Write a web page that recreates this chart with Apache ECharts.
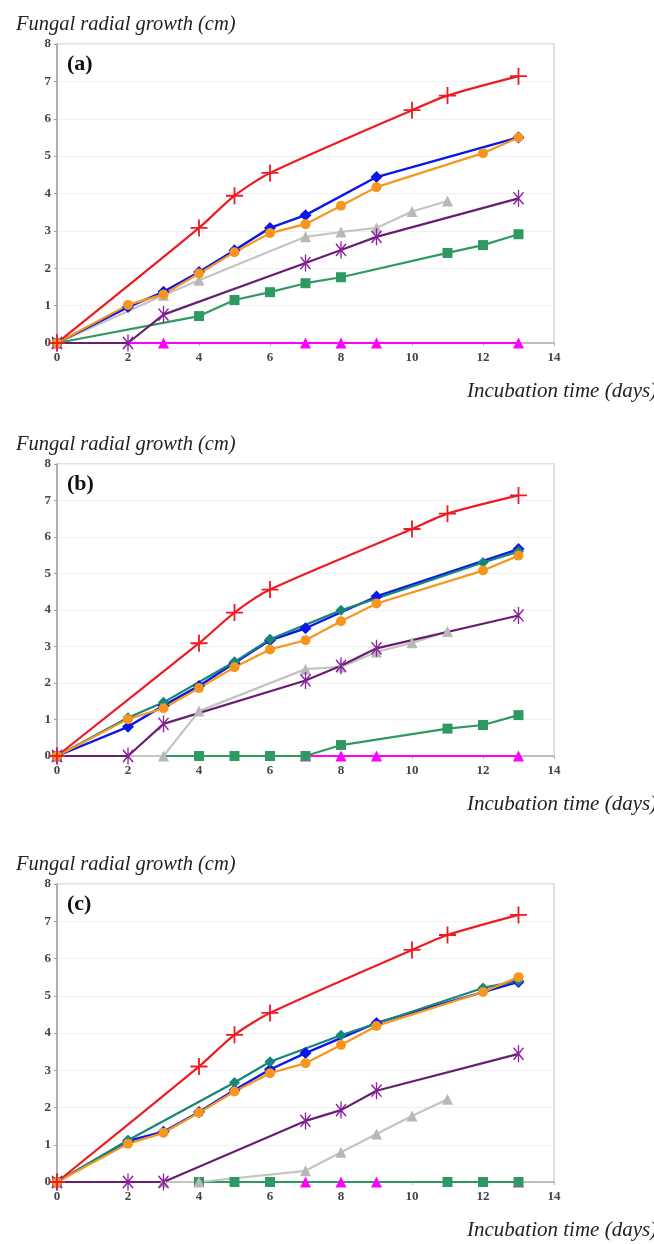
<!DOCTYPE html>
<html>
<head>
<meta charset="utf-8">
<script src="https://cdn.jsdelivr.net/npm/echarts@6/dist/echarts.min.js"></script>
<style>html,body{margin:0;padding:0;background:#fff;}#chart{width:654px;height:1244px;}</style>
</head>
<body>
<div id="chart"></div>
<script>
// ---- Data: [day, radial growth (cm)] ----
const panelLabels = ['(a)', '(b)', '(c)'];
const yTitle = 'Fungal radial growth (cm)';
const xTitle = 'Incubation time (days)';
const xTicks = [0, 2, 4, 6, 8, 10, 12, 14];
const yTicks = [0, 1, 2, 3, 4, 5, 6, 7, 8];

// Panel (a)
const redA     = [[0,0],[4,3.08],[5,3.94],[6,4.55],[10,6.23],[11,6.62],[13,7.14]];
const blueA    = [[0,0],[2,0.96],[3,1.37],[4,1.9],[5,2.48],[6,3.08],[7,3.42],[9,4.44],[13,5.5]];
const orangeA  = [[0,0],[2,1.02],[3,1.3],[4,1.86],[5,2.43],[6,2.94],[7,3.18],[8,3.67],[9,4.17],[12,5.08],[13,5.5]];
const grayA    = [[0,0],[3,1.28],[4,1.68],[7,2.84],[8,2.97],[9,3.08],[10,3.52],[11,3.8]];
const purpleA  = [[0,0],[2,0],[3,0.76],[7,2.14],[8,2.49],[9,2.84],[13,3.87]];
const greenA   = [[0,0],[4,0.72],[5,1.15],[6,1.36],[7,1.6],[8,1.76],[11,2.41],[12,2.62],[13,2.91]];
const magentaA = [[0,0],[3,0],[7,0],[8,0],[9,0],[13,0]];
const tealA    = [];

// Panel (b)
const redB     = [[0,0],[4,3.09],[5,3.93],[6,4.56],[10,6.22],[11,6.64],[13,7.14]];
const blueB    = [[0,0],[2,0.8],[3,1.38],[4,1.92],[5,2.55],[6,3.17],[7,3.5],[9,4.37],[13,5.67]];
const orangeB  = [[0,0],[2,1.01],[3,1.31],[4,1.86],[5,2.43],[6,2.92],[7,3.17],[8,3.69],[9,4.18],[12,5.08],[13,5.49]];
const grayB    = [[0,0],[3,0],[4,1.23],[7,2.38],[8,2.44],[9,2.85],[10,3.1],[11,3.41]];
const purpleB  = [[0,0],[2,0],[3,0.88],[7,2.07],[8,2.47],[9,2.95],[13,3.85]];
const greenB   = [[0,0],[4,0],[5,0],[6,0],[7,0],[8,0.3],[11,0.75],[12,0.85],[13,1.12]];
const magentaB = [[0,0],[7,0],[8,0],[9,0],[13,0]];
const tealB    = [[0,0],[2,1.05],[3,1.47],[5,2.58],[6,3.2],[8,3.99],[12,5.3],[13,5.6]];

// Panel (c)
const redC     = [[0,0],[4,3.1],[5,3.95],[6,4.54],[10,6.23],[11,6.63],[13,7.17]];
const blueC    = [[0,0],[2,1.1],[3,1.35],[4,1.88],[5,2.47],[6,3.02],[7,3.46],[9,4.27],[13,5.37]];
const orangeC  = [[0,0],[2,1.03],[3,1.32],[4,1.86],[5,2.43],[6,2.92],[7,3.19],[8,3.68],[9,4.19],[12,5.1],[13,5.5]];
const grayC    = [[0,0],[3,0],[4,0],[7,0.3],[8,0.8],[9,1.29],[10,1.77],[11,2.22]];
const purpleC  = [[0,0],[2,0],[3,0],[7,1.64],[8,1.93],[9,2.45],[13,3.44]];
const greenC   = [[0,0],[4,0],[5,0],[6,0],[11,0],[12,0],[13,0]];
const magentaC = [[0,0],[7,0],[8,0],[9,0],[13,0]];
const tealC    = [[0,0],[2,1.12],[5,2.67],[6,3.23],[8,3.94],[12,5.21],[13,5.4]];

const panels = [
  {red: redA, blue: blueA, orange: orangeA, gray: grayA, purple: purpleA, green: greenA, magenta: magentaA, teal: tealA},
  {red: redB, blue: blueB, orange: orangeB, gray: grayB, purple: purpleB, green: greenB, magenta: magentaB, teal: tealB},
  {red: redC, blue: blueC, orange: orangeC, gray: grayC, purple: purpleC, green: greenC, magenta: magentaC, teal: tealC}
];

// ---- Styles ----
const plusPath = 'path://M-0.75,-7 L0.75,-7 L0.75,-0.75 L7,-0.75 L7,0.75 L0.75,0.75 L0.75,7 L-0.75,7 L-0.75,0.75 L-7,0.75 L-7,-0.75 L-0.75,-0.75 Z';
const starPath = 'path://M-0.65,-7 L0.65,-7 L0.65,7 L-0.65,7 Z M-4.54,-5.46 L5.46,4.54 L4.54,5.46 L-5.46,-4.54 Z M-5.46,4.54 L4.54,-5.46 L5.46,-4.54 L-4.54,5.46 Z';
const styles = {
  magenta: {color: '#ff00ff', line: '#ff00ff', symbol: 'triangle', size: 11, width: 2.2},
  green:   {color: '#2e9a62', line: '#2e9a62', symbol: 'rect', size: 10, width: 2.2},
  gray:    {color: '#b8b8b8', line: '#c4c4c4', symbol: 'triangle', size: 11, width: 2.2},
  purple:  {color: '#8e1ea2', line: '#66206f', symbol: starPath, size: [14, 17], width: 2.2},
  blue:    {color: '#0b16e8', line: '#0b16e8', symbol: 'diamond', size: 12, width: 2.4},
  teal:    {color: '#16857a', line: '#16857a', symbol: 'diamond', size: 11, width: 2.2},
  orange:  {color: '#f7961e', line: '#f7961e', symbol: 'circle', size: 10, width: 2.2},
  red:     {color: '#ef1b24', line: '#ef1b24', symbol: plusPath, size: 17, width: 2.2, smooth: 0.25}
};
const drawOrder = ['magenta', 'green', 'gray', 'purple', 'blue', 'teal', 'orange', 'red'];

const grids = [
  {left: 57, width: 497, top: 44, height: 299},
  {left: 57, width: 497, top: 464, height: 292},
  {left: 57, width: 497, top: 884, height: 298}
];

const serif = 'Liberation Serif, Times New Roman, serif';
const option = {
  backgroundColor: '#ffffff',
  animation: false,
  title: [],
  grid: grids.map(g => Object.assign({show: true, borderColor: '#d6d6d6', borderWidth: 1.5, backgroundColor: '#fff'}, g)),
  xAxis: [], yAxis: [], series: []
};

grids.forEach((g, i) => {
  option.title.push({
    text: yTitle, left: 11, top: g.top - 34,
    textStyle: {fontFamily: serif, fontStyle: 'italic', fontWeight: 'normal', fontSize: 20.5, color: '#222'}
  });
  option.title.push({
    text: panelLabels[i], left: 62, top: g.top + 4,
    textStyle: {fontFamily: serif, fontWeight: 'bold', fontSize: 22, color: '#111'}
  });
  option.title.push({
    text: xTitle, left: 462, top: g.top + g.height + 33,
    textStyle: {fontFamily: serif, fontStyle: 'italic', fontWeight: 'normal', fontSize: 21, color: '#222'}
  });
  option.xAxis.push({
    type: 'value', gridIndex: i, min: xTicks[0], max: xTicks[xTicks.length - 1], interval: 2,
    axisLine: {show: true, lineStyle: {color: '#b0b0b0', width: 1.5}},
    axisTick: {show: true, length: 3, lineStyle: {color: '#b0b0b0'}},
    axisLabel: {fontFamily: serif, fontSize: 13, fontWeight: 'bold', color: '#444', margin: 8},
    splitLine: {show: false}
  });
  option.yAxis.push({
    type: 'value', gridIndex: i, min: yTicks[0], max: yTicks[yTicks.length - 1], interval: 1,
    axisLine: {show: true, lineStyle: {color: '#a0a0a0', width: 1.5}},
    axisTick: {show: true, length: 3, lineStyle: {color: '#a0a0a0'}},
    axisLabel: {fontFamily: serif, fontSize: 13, fontWeight: 'bold', color: '#444', margin: 6},
    splitLine: {show: true, lineStyle: {color: '#f0f0f0', width: 1}}
  });
  drawOrder.forEach(key => {
    const s = styles[key];
    const data = panels[i][key];
    if (!data.length) return;
    option.series.push({
      type: 'line', name: key, xAxisIndex: i, yAxisIndex: i, data: data,
      clip: false, smooth: s.smooth || false,
      symbol: s.symbol, symbolSize: s.size, symbolKeepAspect: true,
      showAllSymbol: true,
      lineStyle: {color: s.line, width: s.width},
      itemStyle: {color: s.color, borderWidth: 0},
      emphasis: {disabled: true}
    });
  });
});

const chart = echarts.init(document.getElementById('chart'), null, {renderer: 'canvas'});
chart.setOption(option);
</script>
</body>
</html>
